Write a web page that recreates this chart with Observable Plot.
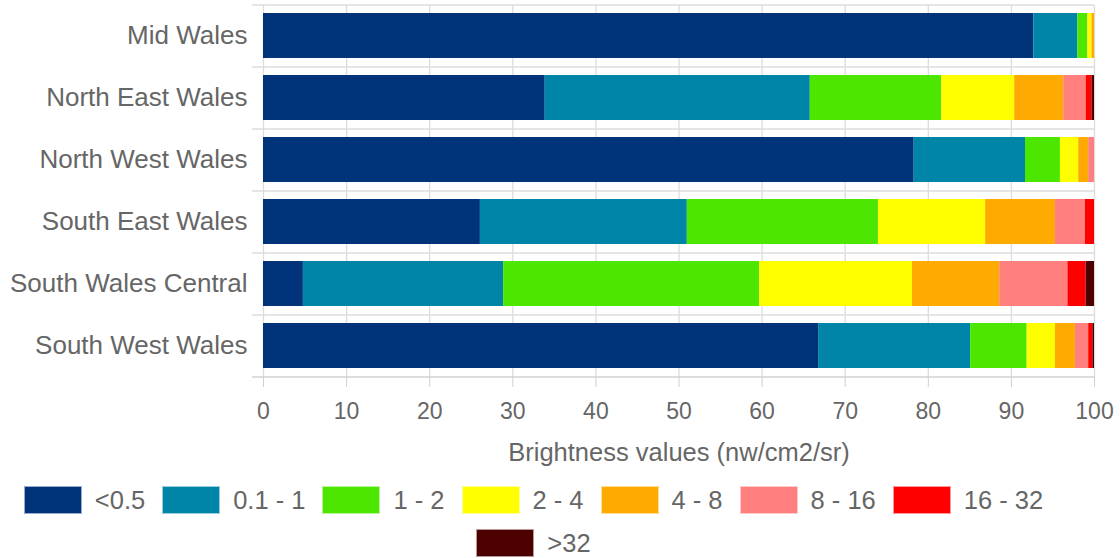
<!DOCTYPE html>
<html>
<head>
<meta charset="utf-8">
<script src="https://cdn.jsdelivr.net/npm/d3@7"></script>
<script src="https://cdn.jsdelivr.net/npm/@observablehq/plot@0.6"></script>
<style>
  body { margin: 0; background: #fff; font-family: "Liberation Sans", Arial, sans-serif; }
  #legend { display: flex; flex-wrap: wrap; justify-content: center; width: 1060px; margin-left: 12px; margin-top: 16px; row-gap: 15px; }
  .item { display: flex; align-items: center; height: 28px; margin-right: 17px; }
  .sw { width: 58px; height: 28px; border: 1px solid rgba(255,255,255,0.6); box-sizing: border-box; }
  .lab { margin-left: 13px; font-size: 25.5px; color: #666; }
</style>
</head>
<body>
<div id="chart"></div>
<div id="legend"></div>
<script>
const regions = ["Mid Wales", "North East Wales", "North West Wales", "South East Wales", "South Wales Central", "South West Wales"];
const categories = ["<0.5", "0.1 - 1", "1 - 2", "2 - 4", "4 - 8", "8 - 16", "16 - 32", ">32"];
const colors = ["#00337a", "#0084a8", "#4ce600", "#ffff00", "#ffaa00", "#ff7f7f", "#ff0000", "#4c0000"];
const xTicks = [0, 10, 20, 30, 40, 50, 60, 70, 80, 90, 100];
const midWales = [92.7, 5.3, 1.2, 0.5, 0.3, 0, 0, 0];
const northEastWales = [33.9, 31.9, 15.8, 8.8, 5.9, 2.7, 0.7, 0.3];
const northWestWales = [78.3, 13.4, 4.2, 2.2, 1.2, 0.7, 0, 0];
const southEastWales = [26.1, 24.9, 23.0, 12.9, 8.4, 3.6, 1.1, 0];
const southWalesCentral = [4.8, 24.1, 30.8, 18.4, 10.5, 8.2, 2.2, 1.0];
const southWestWales = [66.8, 18.3, 6.8, 3.4, 2.4, 1.6, 0.5, 0.2];

const series = [midWales, northEastWales, northWestWales, southEastWales, southWalesCentral, southWestWales];
const data = [];
regions.forEach((r, i) => categories.forEach((c, j) => data.push({region: r, category: c, value: series[i][j]})));

const grid = "#dcdcdc";
const txt = "#666";
const xLabel = "Brightness values (nw/cm2/sr)";
const chart = Plot.plot({
  width: 1120,
  height: 470,
  marginLeft: 263,
  marginRight: 26,
  marginTop: 5,
  marginBottom: 93,
  style: {fontFamily: "'Liberation Sans', Arial, sans-serif", background: "#fff"},
  x: {domain: [0, 100]},
  y: {domain: regions, paddingInner: 0.27, paddingOuter: 0.135},
  color: {domain: categories, range: colors},
  marks: [
    Plot.gridX(xTicks, {stroke: grid, strokeOpacity: 1, strokeWidth: 1.3}),
    Plot.ruleY(regions, {y: d => d, dy: -31, x1: -1.3, x2: 100, stroke: grid, strokeWidth: 1.3}),
    Plot.ruleY(regions.slice(-1), {y: d => d, dy: 31, x1: -1.3, x2: 100, stroke: "#d0d0d0", strokeWidth: 1.5}),
    Plot.barX(data, {x: "value", y: "region", fill: "category", order: categories}),
    Plot.axisX(xTicks, {tickSize: 10, tickPadding: 15, stroke: "#d0d0d0", fontSize: 23, fill: txt, label: xLabel, labelAnchor: "center", labelArrow: "none", labelOffset: 83}),
    Plot.axisY({tickSize: 0, tickPadding: 16, fontSize: 26, fill: txt, label: null})
  ]
});
chart.querySelectorAll("text").forEach(t => {
  t.setAttribute("fill", txt);
  if (t.textContent === xLabel) {
    t.setAttribute("font-size", 25.5);
    t.style.fontSize = "25.5px";
  }
});
document.getElementById("chart").appendChild(chart);

const legend = document.getElementById("legend");
categories.forEach((c, i) => {
  const it = document.createElement("div");
  it.className = "item";
  const sw = document.createElement("div");
  sw.className = "sw";
  sw.style.background = colors[i];
  const lb = document.createElement("span");
  lb.className = "lab";
  lb.textContent = c;
  it.appendChild(sw); it.appendChild(lb);
  legend.appendChild(it);
});
</script>
</body>
</html>
